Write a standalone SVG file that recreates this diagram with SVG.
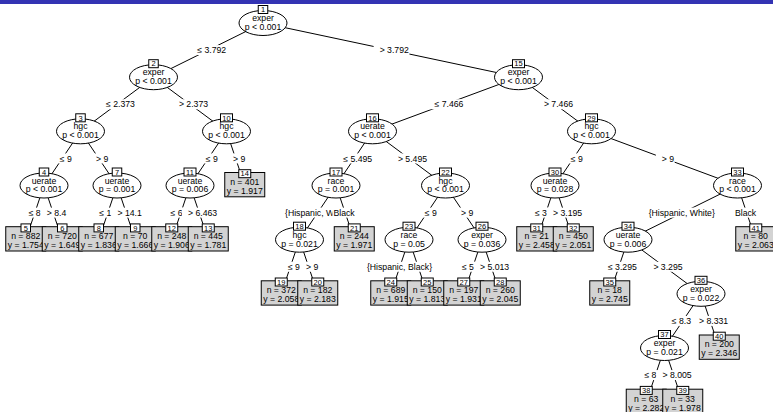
<svg xmlns="http://www.w3.org/2000/svg" width="773" height="412" viewBox="0 0 773 412">
<style>
.ln{stroke:#000;stroke-width:1;fill:none}
.el{fill:#fff;stroke:#000;stroke-width:1}
.lf{fill:#d3d3d3;stroke:#000;stroke-width:1}
.idb{fill:#fff;stroke:#000;stroke-width:1}
.bg{fill:#fff}
text{font-family:"Liberation Sans",Arial,Helvetica,sans-serif;font-size:8.7px;fill:#000;text-anchor:middle}
text.id{font-size:7.5px}
text.s{text-anchor:start}
</style>
<rect x="0" y="0" width="773" height="4" fill="#3333b3"/>
<g id="connectors">
<line class="ln" x1="263" y1="23" x2="153.5" y2="77.2"/>
<line class="ln" x1="263" y1="23" x2="518.5" y2="77.2"/>
<line class="ln" x1="153.5" y1="77.2" x2="80.5" y2="131.3"/>
<line class="ln" x1="153.5" y1="77.2" x2="226.5" y2="131.3"/>
<line class="ln" x1="518.5" y1="77.2" x2="372.5" y2="131.3"/>
<line class="ln" x1="518.5" y1="77.2" x2="591.5" y2="131.3"/>
<line class="ln" x1="80.5" y1="131.3" x2="44" y2="185.5"/>
<line class="ln" x1="80.5" y1="131.3" x2="117" y2="185.5"/>
<line class="ln" x1="226.5" y1="131.3" x2="190" y2="185.5"/>
<line class="ln" x1="226.5" y1="131.3" x2="244.75" y2="185.5"/>
<line class="ln" x1="372.5" y1="131.3" x2="336" y2="185.5"/>
<line class="ln" x1="372.5" y1="131.3" x2="445.5" y2="185.5"/>
<line class="ln" x1="591.5" y1="131.3" x2="555" y2="185.5"/>
<line class="ln" x1="591.5" y1="131.3" x2="737.5" y2="185.5"/>
<line class="ln" x1="44" y1="185.5" x2="25.75" y2="239.7"/>
<line class="ln" x1="44" y1="185.5" x2="62.25" y2="239.7"/>
<line class="ln" x1="117" y1="185.5" x2="98.75" y2="239.7"/>
<line class="ln" x1="117" y1="185.5" x2="135.25" y2="239.7"/>
<line class="ln" x1="190" y1="185.5" x2="171.75" y2="239.7"/>
<line class="ln" x1="190" y1="185.5" x2="208.25" y2="239.7"/>
<line class="ln" x1="336" y1="185.5" x2="299.5" y2="239.7"/>
<line class="ln" x1="336" y1="185.5" x2="354.25" y2="239.7"/>
<line class="ln" x1="445.5" y1="185.5" x2="409" y2="239.7"/>
<line class="ln" x1="445.5" y1="185.5" x2="482" y2="239.7"/>
<line class="ln" x1="555" y1="185.5" x2="536.75" y2="239.7"/>
<line class="ln" x1="555" y1="185.5" x2="573.25" y2="239.7"/>
<line class="ln" x1="737.5" y1="185.5" x2="628" y2="239.7"/>
<line class="ln" x1="737.5" y1="185.5" x2="755.75" y2="239.7"/>
<line class="ln" x1="299.5" y1="239.7" x2="281.25" y2="293.8"/>
<line class="ln" x1="299.5" y1="239.7" x2="317.75" y2="293.8"/>
<line class="ln" x1="409" y1="239.7" x2="390.75" y2="293.8"/>
<line class="ln" x1="409" y1="239.7" x2="427.25" y2="293.8"/>
<line class="ln" x1="482" y1="239.7" x2="463.75" y2="293.8"/>
<line class="ln" x1="482" y1="239.7" x2="500.25" y2="293.8"/>
<line class="ln" x1="628" y1="239.7" x2="609.75" y2="293.8"/>
<line class="ln" x1="628" y1="239.7" x2="701" y2="293.8"/>
<line class="ln" x1="701" y1="293.8" x2="664.5" y2="348"/>
<line class="ln" x1="701" y1="293.8" x2="719.25" y2="348"/>
<line class="ln" x1="664.5" y1="348" x2="646.25" y2="402.2"/>
<line class="ln" x1="664.5" y1="348" x2="682.75" y2="402.2"/>
<!-- edge labels -->
<rect class="bg" x="191.25" y="45.1" width="35.5" height="10"/><text x="211.75" y="53.2">≤ 3.792</text>
<rect class="bg" x="373.6" y="45.1" width="35.8" height="10"/><text x="394.25" y="53.2">&gt; 3.792</text>
<rect class="bg" x="100" y="99.25" width="35.5" height="10"/><text x="120.5" y="107.35">≤ 2.373</text>
<rect class="bg" x="172.85" y="99.25" width="35.8" height="10"/><text x="193.5" y="107.35">&gt; 2.373</text>
<rect class="bg" x="428.5" y="99.25" width="35.5" height="10"/><text x="449" y="107.35">≤ 7.466</text>
<rect class="bg" x="537.85" y="99.25" width="35.8" height="10"/><text x="558.5" y="107.35">&gt; 7.466</text>
<rect class="bg" x="53.75" y="153.4" width="18.5" height="10"/><text x="65.75" y="161.5">≤ 9</text>
<rect class="bg" x="90.1" y="153.4" width="18.8" height="10"/><text x="102.25" y="161.5">&gt; 9</text>
<rect class="bg" x="199.75" y="153.4" width="18.5" height="10"/><text x="211.75" y="161.5">≤ 9</text>
<rect class="bg" x="226.95" y="153.4" width="18.8" height="10"/><text x="239.1" y="161.5">&gt; 9</text>
<rect class="bg" x="337.25" y="153.4" width="35.5" height="10"/><text x="357.75" y="161.5">≤ 5.495</text>
<rect class="bg" x="391.85" y="153.4" width="35.8" height="10"/><text x="412.5" y="161.5">&gt; 5.495</text>
<rect class="bg" x="564.75" y="153.4" width="18.5" height="10"/><text x="576.75" y="161.5">≤ 9</text>
<rect class="bg" x="655.85" y="153.4" width="18.8" height="10"/><text x="668" y="161.5">&gt; 9</text>
<rect class="bg" x="22.7" y="207.6" width="19" height="10"/><text class="s" x="28.7" y="215.7">≤ 8</text>
<rect class="bg" x="40.8" y="207.6" width="26.1" height="10"/><text x="56.6" y="215.7">&gt; 8.4</text>
<rect class="bg" x="93.3" y="207.6" width="19" height="10"/><text class="s" x="99.3" y="215.7">≤ 1</text>
<rect class="bg" x="111.4" y="207.6" width="30.9" height="10"/><text x="129.6" y="215.7">&gt; 14.1</text>
<rect class="bg" x="164.5" y="207.6" width="19" height="10"/><text class="s" x="170.5" y="215.7">≤ 6</text>
<rect class="bg" x="181.95" y="207.6" width="35.8" height="10"/><text x="202.6" y="215.7">&gt; 6.463</text>
<rect class="bg" x="284" y="207.6" width="49" height="10"/><text class="s" x="285" y="215.7">{Hispanic, W</text>
<rect class="bg" x="332.5" y="207.6" width="23.3" height="10"/><text x="344.1" y="215.7">Black</text>
<rect class="bg" x="418.75" y="207.6" width="18.5" height="10"/><text x="430.75" y="215.7">≤ 9</text>
<rect class="bg" x="455.1" y="207.6" width="18.8" height="10"/><text x="467.25" y="215.7">&gt; 9</text>
<rect class="bg" x="528.9" y="207.6" width="19" height="10"/><text class="s" x="534.9" y="215.7">≤ 3</text>
<rect class="bg" x="546.95" y="207.6" width="35.8" height="10"/><text x="567.6" y="215.7">&gt; 3.195</text>
<rect class="bg" x="649" y="207.6" width="65.6" height="10"/><text x="681.75" y="215.7">{Hispanic, White}</text>
<rect class="bg" x="734" y="207.6" width="23.3" height="10"/><text x="745.6" y="215.7">Black</text>
<rect class="bg" x="281.9" y="261.75" width="18.5" height="10"/><text x="293.9" y="269.85">≤ 9</text>
<rect class="bg" x="299.95" y="261.75" width="18.8" height="10"/><text x="312.1" y="269.85">&gt; 9</text>
<rect class="bg" x="365.9" y="261.75" width="67.3" height="10"/><text x="399.5" y="269.85">{Hispanic, Black}</text>
<rect class="bg" x="455.9" y="261.75" width="19" height="10"/><text class="s" x="461.9" y="269.85">≤ 5</text>
<rect class="bg" x="473.95" y="261.75" width="35.8" height="10"/><text x="494.6" y="269.85">&gt; 5.013</text>
<rect class="bg" x="601.9" y="261.75" width="35.5" height="10"/><text x="622.4" y="269.85">≤ 3.295</text>
<rect class="bg" x="647.35" y="261.75" width="35.8" height="10"/><text x="668" y="269.85">&gt; 3.295</text>
<rect class="bg" x="665.75" y="315.9" width="26" height="10"/><text class="s" x="671.75" y="324">≤ 8.3</text>
<rect class="bg" x="692.95" y="315.9" width="35.8" height="10"/><text x="713.6" y="324">&gt; 8.331</text>
<rect class="bg" x="638.4" y="370.1" width="19" height="10"/><text class="s" x="644.4" y="378.2">≤ 8</text>
<rect class="bg" x="656.45" y="370.1" width="35.8" height="10"/><text x="677.1" y="378.2">&gt; 8.005</text>
</g>
<g id="node1"><ellipse class="el" cx="263" cy="23" rx="24" ry="12.5"/><rect class="idb" x="258.25" y="5.5" width="9.5" height="8"/><text class="id" x="263" y="12.2">1</text><text x="263" y="21">exper</text><text x="263" y="29.8">p &lt; 0.001</text></g>
<g id="node2"><ellipse class="el" cx="153.5" cy="77.2" rx="24" ry="12.5"/><rect class="idb" x="148.75" y="59.7" width="9.5" height="8"/><text class="id" x="153.5" y="66.4">2</text><text x="153.5" y="75.2">exper</text><text x="153.5" y="84">p &lt; 0.001</text></g>
<g id="node3"><ellipse class="el" cx="80.5" cy="131.3" rx="24" ry="12.5"/><rect class="idb" x="75.75" y="113.8" width="9.5" height="8"/><text class="id" x="80.5" y="120.5">3</text><text x="80.5" y="129.3">hgc</text><text x="80.5" y="138.1">p &lt; 0.001</text></g>
<g id="node4"><ellipse class="el" cx="44" cy="185.5" rx="24" ry="12.5"/><rect class="idb" x="39.25" y="168" width="9.5" height="8"/><text class="id" x="44" y="174.7">4</text><text x="44" y="183.5">uerate</text><text x="44" y="192.3">p &lt; 0.001</text></g>
<g id="node5"><rect class="lf" x="5.75" y="226.7" width="40" height="24.3"/><rect class="idb" x="21" y="223.9" width="9.5" height="8"/><text class="id" x="25.75" y="230.6">5</text><text x="25.75" y="239.1">n = 882</text><text x="25.75" y="248.1">y = 1.754</text></g>
<g id="node6"><rect class="lf" x="42.25" y="226.7" width="40" height="24.3"/><rect class="idb" x="57.5" y="223.9" width="9.5" height="8"/><text class="id" x="62.25" y="230.6">6</text><text x="62.25" y="239.1">n = 720</text><text x="62.25" y="248.1">y = 1.649</text></g>
<g id="node7"><ellipse class="el" cx="117" cy="185.5" rx="24" ry="12.5"/><rect class="idb" x="112.25" y="168" width="9.5" height="8"/><text class="id" x="117" y="174.7">7</text><text x="117" y="183.5">uerate</text><text x="117" y="192.3">p = 0.001</text></g>
<g id="node8"><rect class="lf" x="78.75" y="226.7" width="40" height="24.3"/><rect class="idb" x="94" y="223.9" width="9.5" height="8"/><text class="id" x="98.75" y="230.6">8</text><text x="98.75" y="239.1">n = 677</text><text x="98.75" y="248.1">y = 1.836</text></g>
<g id="node9"><rect class="lf" x="115.25" y="226.7" width="40" height="24.3"/><rect class="idb" x="130.5" y="223.9" width="9.5" height="8"/><text class="id" x="135.25" y="230.6">9</text><text x="135.25" y="239.1">n = 70</text><text x="135.25" y="248.1">y = 1.666</text></g>
<g id="node10"><ellipse class="el" cx="226.5" cy="131.3" rx="24" ry="12.5"/><rect class="idb" x="220.5" y="113.8" width="12" height="8"/><text class="id" x="226.5" y="120.5">10</text><text x="226.5" y="129.3">hgc</text><text x="226.5" y="138.1">p &lt; 0.001</text></g>
<g id="node11"><ellipse class="el" cx="190" cy="185.5" rx="24" ry="12.5"/><rect class="idb" x="184" y="168" width="12" height="8"/><text class="id" x="190" y="174.7">11</text><text x="190" y="183.5">uerate</text><text x="190" y="192.3">p = 0.006</text></g>
<g id="node12"><rect class="lf" x="151.75" y="226.7" width="40" height="24.3"/><rect class="idb" x="165.75" y="223.9" width="12" height="8"/><text class="id" x="171.75" y="230.6">12</text><text x="171.75" y="239.1">n = 248</text><text x="171.75" y="248.1">y = 1.906</text></g>
<g id="node13"><rect class="lf" x="188.25" y="226.7" width="40" height="24.3"/><rect class="idb" x="202.25" y="223.9" width="12" height="8"/><text class="id" x="208.25" y="230.6">13</text><text x="208.25" y="239.1">n = 445</text><text x="208.25" y="248.1">y = 1.781</text></g>
<g id="node14"><rect class="lf" x="224.75" y="172.5" width="40" height="24.3"/><rect class="idb" x="238.75" y="169.7" width="12" height="8"/><text class="id" x="244.75" y="176.4">14</text><text x="244.75" y="184.9">n = 401</text><text x="244.75" y="193.9">y = 1.917</text></g>
<g id="node15"><ellipse class="el" cx="518.5" cy="77.2" rx="24" ry="12.5"/><rect class="idb" x="512.5" y="59.7" width="12" height="8"/><text class="id" x="518.5" y="66.4">15</text><text x="518.5" y="75.2">exper</text><text x="518.5" y="84">p &lt; 0.001</text></g>
<g id="node16"><ellipse class="el" cx="372.5" cy="131.3" rx="24" ry="12.5"/><rect class="idb" x="366.5" y="113.8" width="12" height="8"/><text class="id" x="372.5" y="120.5">16</text><text x="372.5" y="129.3">uerate</text><text x="372.5" y="138.1">p &lt; 0.001</text></g>
<g id="node17"><ellipse class="el" cx="336" cy="185.5" rx="24" ry="12.5"/><rect class="idb" x="330" y="168" width="12" height="8"/><text class="id" x="336" y="174.7">17</text><text x="336" y="183.5">race</text><text x="336" y="192.3">p = 0.001</text></g>
<g id="node18"><ellipse class="el" cx="299.5" cy="239.7" rx="24" ry="12.5"/><rect class="idb" x="293.5" y="222.2" width="12" height="8"/><text class="id" x="299.5" y="228.9">18</text><text x="299.5" y="237.7">hgc</text><text x="299.5" y="246.5">p = 0.021</text></g>
<g id="node19"><rect class="lf" x="261.25" y="280.8" width="40" height="24.3"/><rect class="idb" x="275.25" y="278" width="12" height="8"/><text class="id" x="281.25" y="284.7">19</text><text x="281.25" y="293.2">n = 372</text><text x="281.25" y="302.2">y = 2.058</text></g>
<g id="node20"><rect class="lf" x="297.75" y="280.8" width="40" height="24.3"/><rect class="idb" x="311.75" y="278" width="12" height="8"/><text class="id" x="317.75" y="284.7">20</text><text x="317.75" y="293.2">n = 182</text><text x="317.75" y="302.2">y = 2.183</text></g>
<g id="node21"><rect class="lf" x="334.25" y="226.7" width="40" height="24.3"/><rect class="idb" x="348.25" y="223.9" width="12" height="8"/><text class="id" x="354.25" y="230.6">21</text><text x="354.25" y="239.1">n = 244</text><text x="354.25" y="248.1">y = 1.971</text></g>
<g id="node22"><ellipse class="el" cx="445.5" cy="185.5" rx="24" ry="12.5"/><rect class="idb" x="439.5" y="168" width="12" height="8"/><text class="id" x="445.5" y="174.7">22</text><text x="445.5" y="183.5">hgc</text><text x="445.5" y="192.3">p &lt; 0.001</text></g>
<g id="node23"><ellipse class="el" cx="409" cy="239.7" rx="24" ry="12.5"/><rect class="idb" x="403" y="222.2" width="12" height="8"/><text class="id" x="409" y="228.9">23</text><text x="409" y="237.7">race</text><text x="409" y="246.5">p = 0.05</text></g>
<g id="node24"><rect class="lf" x="370.75" y="280.8" width="40" height="24.3"/><rect class="idb" x="384.75" y="278" width="12" height="8"/><text class="id" x="390.75" y="284.7">24</text><text x="390.75" y="293.2">n = 689</text><text x="390.75" y="302.2">y = 1.915</text></g>
<g id="node25"><rect class="lf" x="407.25" y="280.8" width="40" height="24.3"/><rect class="idb" x="421.25" y="278" width="12" height="8"/><text class="id" x="427.25" y="284.7">25</text><text x="427.25" y="293.2">n = 150</text><text x="427.25" y="302.2">y = 1.813</text></g>
<g id="node26"><ellipse class="el" cx="482" cy="239.7" rx="24" ry="12.5"/><rect class="idb" x="476" y="222.2" width="12" height="8"/><text class="id" x="482" y="228.9">26</text><text x="482" y="237.7">exper</text><text x="482" y="246.5">p = 0.036</text></g>
<g id="node27"><rect class="lf" x="443.75" y="280.8" width="40" height="24.3"/><rect class="idb" x="457.75" y="278" width="12" height="8"/><text class="id" x="463.75" y="284.7">27</text><text x="463.75" y="293.2">n = 197</text><text x="463.75" y="302.2">y = 1.931</text></g>
<g id="node28"><rect class="lf" x="480.25" y="280.8" width="40" height="24.3"/><rect class="idb" x="494.25" y="278" width="12" height="8"/><text class="id" x="500.25" y="284.7">28</text><text x="500.25" y="293.2">n = 260</text><text x="500.25" y="302.2">y = 2.045</text></g>
<g id="node29"><ellipse class="el" cx="591.5" cy="131.3" rx="24" ry="12.5"/><rect class="idb" x="585.5" y="113.8" width="12" height="8"/><text class="id" x="591.5" y="120.5">29</text><text x="591.5" y="129.3">hgc</text><text x="591.5" y="138.1">p &lt; 0.001</text></g>
<g id="node30"><ellipse class="el" cx="555" cy="185.5" rx="24" ry="12.5"/><rect class="idb" x="549" y="168" width="12" height="8"/><text class="id" x="555" y="174.7">30</text><text x="555" y="183.5">uerate</text><text x="555" y="192.3">p = 0.028</text></g>
<g id="node31"><rect class="lf" x="516.75" y="226.7" width="40" height="24.3"/><rect class="idb" x="530.75" y="223.9" width="12" height="8"/><text class="id" x="536.75" y="230.6">31</text><text x="536.75" y="239.1">n = 21</text><text x="536.75" y="248.1">y = 2.458</text></g>
<g id="node32"><rect class="lf" x="553.25" y="226.7" width="40" height="24.3"/><rect class="idb" x="567.25" y="223.9" width="12" height="8"/><text class="id" x="573.25" y="230.6">32</text><text x="573.25" y="239.1">n = 450</text><text x="573.25" y="248.1">y = 2.051</text></g>
<g id="node33"><ellipse class="el" cx="737.5" cy="185.5" rx="24" ry="12.5"/><rect class="idb" x="731.5" y="168" width="12" height="8"/><text class="id" x="737.5" y="174.7">33</text><text x="737.5" y="183.5">race</text><text x="737.5" y="192.3">p &lt; 0.001</text></g>
<g id="node34"><ellipse class="el" cx="628" cy="239.7" rx="24" ry="12.5"/><rect class="idb" x="622" y="222.2" width="12" height="8"/><text class="id" x="628" y="228.9">34</text><text x="628" y="237.7">uerate</text><text x="628" y="246.5">p = 0.006</text></g>
<g id="node35"><rect class="lf" x="589.75" y="280.8" width="40" height="24.3"/><rect class="idb" x="603.75" y="278" width="12" height="8"/><text class="id" x="609.75" y="284.7">35</text><text x="609.75" y="293.2">n = 18</text><text x="609.75" y="302.2">y = 2.745</text></g>
<g id="node36"><ellipse class="el" cx="701" cy="293.8" rx="24" ry="12.5"/><rect class="idb" x="695" y="276.3" width="12" height="8"/><text class="id" x="701" y="283">36</text><text x="701" y="291.8">exper</text><text x="701" y="300.6">p = 0.022</text></g>
<g id="node37"><ellipse class="el" cx="664.5" cy="348" rx="24" ry="12.5"/><rect class="idb" x="658.5" y="330.5" width="12" height="8"/><text class="id" x="664.5" y="337.2">37</text><text x="664.5" y="346">exper</text><text x="664.5" y="354.8">p = 0.021</text></g>
<g id="node38"><rect class="lf" x="626.25" y="389.2" width="40" height="24.3"/><rect class="idb" x="640.25" y="386.4" width="12" height="8"/><text class="id" x="646.25" y="393.1">38</text><text x="646.25" y="401.6">n = 63</text><text x="646.25" y="410.6">y = 2.282</text></g>
<g id="node39"><rect class="lf" x="662.75" y="389.2" width="40" height="24.3"/><rect class="idb" x="676.75" y="386.4" width="12" height="8"/><text class="id" x="682.75" y="393.1">39</text><text x="682.75" y="401.6">n = 33</text><text x="682.75" y="410.6">y = 1.978</text></g>
<g id="node40"><rect class="lf" x="699.25" y="335" width="40" height="24.3"/><rect class="idb" x="713.25" y="332.2" width="12" height="8"/><text class="id" x="719.25" y="338.9">40</text><text x="719.25" y="347.4">n = 200</text><text x="719.25" y="356.4">y = 2.346</text></g>
<g id="node41"><rect class="lf" x="735.75" y="226.7" width="40" height="24.3"/><rect class="idb" x="749.75" y="223.9" width="12" height="8"/><text class="id" x="755.75" y="230.6">41</text><text x="755.75" y="239.1">n = 80</text><text x="755.75" y="248.1">y = 2.063</text></g>
</svg>
